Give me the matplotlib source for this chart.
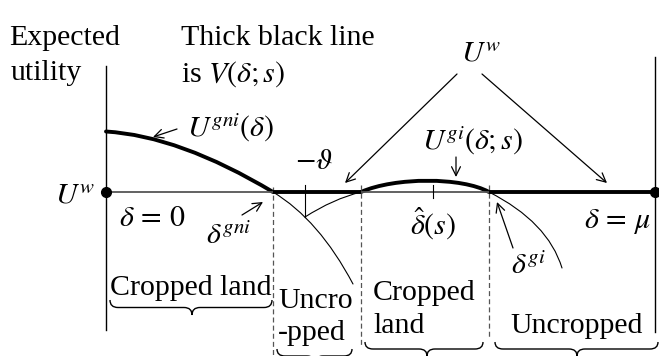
import matplotlib
matplotlib.use("Agg")
import matplotlib.pyplot as plt
from matplotlib.path import Path
from matplotlib.patches import PathPatch

plt.rcParams['font.family'] = ['Liberation Serif', 'DejaVu Serif']
plt.rcParams['mathtext.fontset'] = 'stix'

# ---- schematic anchor points (pixel space) ----
axis_y = 192
x_left, x_right = 106, 655
x_gni, x_theta, x_a, x_hat, x_gi = 273, 305, 361, 433, 489

# U^gni curve: thick part (start, control, end), thin part (start, control, end)
ugni_thick = [(106, 131.5), (179.5, 135.9), (273, 192)]
ugni_thin = [(273, 192), (319, 219.7), (353, 284)]
# U^gi curve: thin left, thick middle (cubic), thin right
ugi_thin_left = [(305, 217), (333, 199), (361, 192)]
ugi_thick = [(361, 192), (395, 177), (462, 177), (489, 192)]
ugi_thin_right = [(489, 192), (548, 222), (562, 268)]

# braces: (x0, x1, tip, top, height)
braces = [(110, 272, 192, 300, 15), (277, 352, 315, 349, 14),
          (365, 483, 427, 342, 14), (495, 658, 577, 342, 14)]

# arrows: (tail, head)
arrows = [((177, 129), (153, 137)), ((242, 215), (263, 202)),
          ((513, 248), (497, 202)), ((457, 74), (345, 183)),
          ((482, 74), (607, 183)), ((456, 157), (456, 177))]

# dashed verticals: (x, y0, y1)
dashed = [(273, 187, 356), (361, 185, 345), (489, 185, 338)]

fig = plt.figure(figsize=(6.59, 3.56), dpi=100)
ax = fig.add_axes([0, 0, 1, 1])
ax.set_xlim(0, 659)
ax.set_ylim(356, 0)
ax.axis('off')


def bez(pts, lw):
    if len(pts) == 3:
        codes = [Path.MOVETO, Path.CURVE3, Path.CURVE3]
    else:
        codes = [Path.MOVETO, Path.CURVE4, Path.CURVE4, Path.CURVE4]
    ax.add_patch(PathPatch(Path(pts, codes), fill=False, lw=lw,
                           edgecolor='black', capstyle='round'))


# axes lines
ax.plot([x_left, x_left], [66, 330], color='black', lw=1.0)
ax.plot([x_right, x_right], [57, 332], color='black', lw=1.0)
ax.plot([x_left, x_right], [axis_y, axis_y], color='#555555', lw=1.3)

# dashed verticals
for x, y0, y1 in dashed:
    ax.plot([x, x], [y0, y1], color='#555555', lw=0.9, ls=(0, (4, 2.5)))

# ticks
ax.plot([x_theta, x_theta], [185, 217], color='black', lw=0.8)
ax.plot([x_hat, x_hat], [185, 198], color='black', lw=0.8)

# thick V segments
ax.plot([x_gni, x_a], [axis_y, axis_y], color='black', lw=2.8, solid_capstyle='butt')
ax.plot([x_gi, x_right], [axis_y, axis_y], color='black', lw=2.8, solid_capstyle='butt')

bez(ugni_thick, 2.8)
bez(ugni_thin, 0.8)
bez(ugi_thin_left, 0.8)
bez(ugi_thick, 2.8)
bez(ugi_thin_right, 0.8)

# dots
ax.plot([x_left, x_right], [axis_y, axis_y], 'o', color='black', ms=7, zorder=5)

# arrows
for tail, head in arrows:
    ax.annotate('', xy=head, xytext=tail,
                arrowprops=dict(arrowstyle='->', lw=0.9, color='black',
                                mutation_scale=16, shrinkA=0, shrinkB=0))

# braces
for x0, x1, xm, y0, h in braces:
    r = 8
    ym = y0 + h / 2
    verts = [(x0, y0), (x0, ym), (x0 + r, ym), (xm - r, ym), (xm, ym), (xm, y0 + h),
             (xm, ym), (xm + r, ym), (x1 - r, ym), (x1, ym), (x1, y0)]
    codes = [Path.MOVETO, Path.CURVE3, Path.CURVE3, Path.LINETO, Path.CURVE3, Path.CURVE3,
             Path.CURVE3, Path.CURVE3, Path.LINETO, Path.CURVE3, Path.CURVE3]
    ax.add_patch(PathPatch(Path(verts, codes), fill=False, lw=1.0, edgecolor='black'))

TS = 21.5
MS = 21.5
kw = dict(color='black')
ax.text(9, 45, 'Expected', fontsize=TS, ha='left', va='baseline', **kw)
ax.text(11, 80, 'utility', fontsize=TS, ha='left', va='baseline', **kw)
ax.text(181, 45, 'Thick black line', fontsize=TS, ha='left', va='baseline', **kw)
ax.text(181, 82, r'is $V(\delta;s)$', fontsize=TS, ha='left', va='baseline', **kw)

ax.text(187, 137, r'$U^{gni}(\delta)$', fontsize=MS, ha='left', va='baseline', **kw)
ax.text(314, 162, r'$-\vartheta$', fontsize=MS, ha='center', va='center', **kw)
ax.text(481, 55, r'$U^{w}$', fontsize=MS, ha='center', va='center', **kw)
ax.text(422, 150, r'$U^{gi}(\delta;s)$', fontsize=MS, ha='left', va='baseline', **kw)
ax.text(75, 196, r'$U^{w}$', fontsize=MS, ha='center', va='center', **kw)
ax.text(152, 219, r'$\delta\,=\,0$', fontsize=MS, ha='center', va='center', **kw)
ax.text(206, 236, r'$\delta^{gni}$', fontsize=MS, ha='left', va='center', **kw)
ax.text(433, 224, r'$\hat{\delta}(s)$', fontsize=MS, ha='center', va='center', **kw)
ax.text(617, 221, r'$\delta\,=\,\mu$', fontsize=MS, ha='center', va='center', **kw)
ax.text(528, 266, r'$\delta^{gi}$', fontsize=MS, ha='center', va='center', **kw)

ax.text(110, 295, 'Cropped land', fontsize=TS, ha='left', va='baseline', **kw)
ax.text(278, 308, 'Uncro', fontsize=TS, ha='left', va='baseline', **kw)
ax.text(278, 340, '-pped', fontsize=TS, ha='left', va='baseline', **kw)
ax.text(373, 300, 'Cropped', fontsize=TS, ha='left', va='baseline', **kw)
ax.text(373, 333, 'land', fontsize=TS, ha='left', va='baseline', **kw)
ax.text(510, 333, 'Uncropped', fontsize=TS, ha='left', va='baseline', **kw)

fig.savefig('out.png', dpi=100)
